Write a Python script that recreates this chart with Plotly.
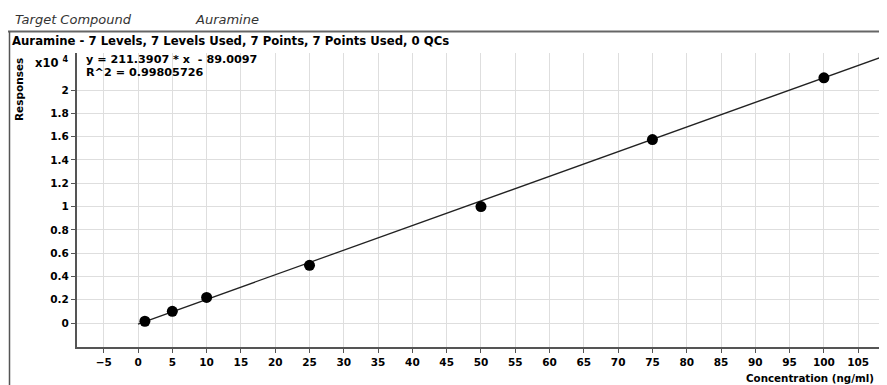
import plotly.graph_objects as go

# Data
conc = [1, 5, 10, 25, 50, 75, 100]                       # ng/ml
response = [150, 1000, 2200, 4950, 10000, 15750, 21050]  # raw responses
slope = 211.3907
intercept = -89.0097
fit_x = [0, 112]
x_ticks = list(range(-5, 110, 5))
y_ticks = [0, 0.2, 0.4, 0.6, 0.8, 1, 1.2, 1.4, 1.6, 1.8, 2]

scale = 1e4
y_pts = [r / scale for r in response]
fit_y = [(slope * x + intercept) / scale for x in fit_x]

FONT = "DejaVu Sans"

OFF = 8  # page body margin
W, H = 887 - OFF, 385 - OFF
L, R, T, B = 77 - OFF, 0, 53 - OFF, 385 - 347
pw, ph = W - L - R, H - T - B

def px(xp):  # page pixel x -> paper
    return (xp - OFF - L) / pw

def py(yp):  # page pixel y -> paper
    return (H - B - (yp - OFF)) / ph

fig = go.Figure()
fig.add_trace(go.Scatter(x=fit_x, y=fit_y, mode="lines",
                         line=dict(color="#222", width=1.3), hoverinfo="skip"))
fig.add_trace(go.Scatter(x=conc, y=y_pts, mode="markers",
                         marker=dict(color="black", size=11)))

axis_common = dict(showgrid=True, gridcolor="#dedede", gridwidth=1, zeroline=False,
                   showline=True, linecolor="#555", linewidth=2,
                   ticks="outside", ticklen=4, tickcolor="#555",
                   tickfont=dict(family=FONT, size=10.5, color="black", weight="bold"))

fig.update_layout(
    width=W, height=H,
    margin=dict(l=L, r=R, t=T, b=B),
    paper_bgcolor="white", plot_bgcolor="white",
    showlegend=False,
    font=dict(family=FONT, size=10, color="black"),
    xaxis=dict(range=[-8.9, 109.2], tickvals=x_ticks, **axis_common),
    yaxis=dict(range=[-0.206, 2.318], tickvals=y_ticks, **axis_common),
    shapes=[
        dict(type="line", xref="paper", yref="paper", x0=px(8), x1=px(900),
             y0=py(31.5), y1=py(31.5), line=dict(color="#666", width=2)),
        dict(type="line", xref="paper", yref="paper", x0=px(9.5), x1=px(9.5),
             y0=py(31.5), y1=py(400), line=dict(color="#555", width=1.5)),
    ],
    annotations=[
        dict(text="<i>Target Compound</i>", xref="paper", yref="paper",
             x=px(13), y=py(20), xanchor="left", yanchor="middle",
             showarrow=False, font=dict(family=FONT, size=13, color="#333")),
        dict(text="<i>Auramine</i>", xref="paper", yref="paper",
             x=px(193), y=py(20), xanchor="left", yanchor="middle",
             showarrow=False, font=dict(family=FONT, size=13, color="#333")),
        dict(text="<b>Auramine - 7 Levels, 7 Levels Used, 7 Points, 7 Points Used, 0 QCs</b>",
             xref="paper", yref="paper", x=px(10), y=py(41), xanchor="left",
             yanchor="middle", showarrow=False,
             font=dict(family=FONT, size=11.7, color="black")),
        dict(text="<b>Responses</b>", xref="paper", yref="paper", x=px(19), y=py(90),
             xanchor="center", yanchor="middle", textangle=-90, showarrow=False,
             font=dict(family=FONT, size=10.5, color="black")),
        dict(text="<b>x10 <sup>4</sup></b>", xref="paper", yref="paper", x=px(33), y=py(62),
             xanchor="left", yanchor="middle", showarrow=False,
             font=dict(family=FONT, size=11.5, color="black")),
        dict(text="<b>y = %.4f * x  - %.4f</b>" % (slope, -intercept), xref="paper", yref="paper",
             x=px(84), y=py(59.5), xanchor="left", yanchor="middle", showarrow=False,
             font=dict(family=FONT, size=11.2, color="black")),
        dict(text="<b>R^2 = 0.99805726</b>", xref="paper", yref="paper",
             x=px(84), y=py(72.5), xanchor="left", yanchor="middle", showarrow=False,
             font=dict(family=FONT, size=11.2, color="black")),
        dict(text="<b>Concentration (ng/ml)</b>", xref="paper", yref="paper",
             x=px(744), y=py(378), xanchor="left", yanchor="middle", showarrow=False,
             font=dict(family=FONT, size=10.3, color="black")),
    ],
)

fig.write_html("out.html")
